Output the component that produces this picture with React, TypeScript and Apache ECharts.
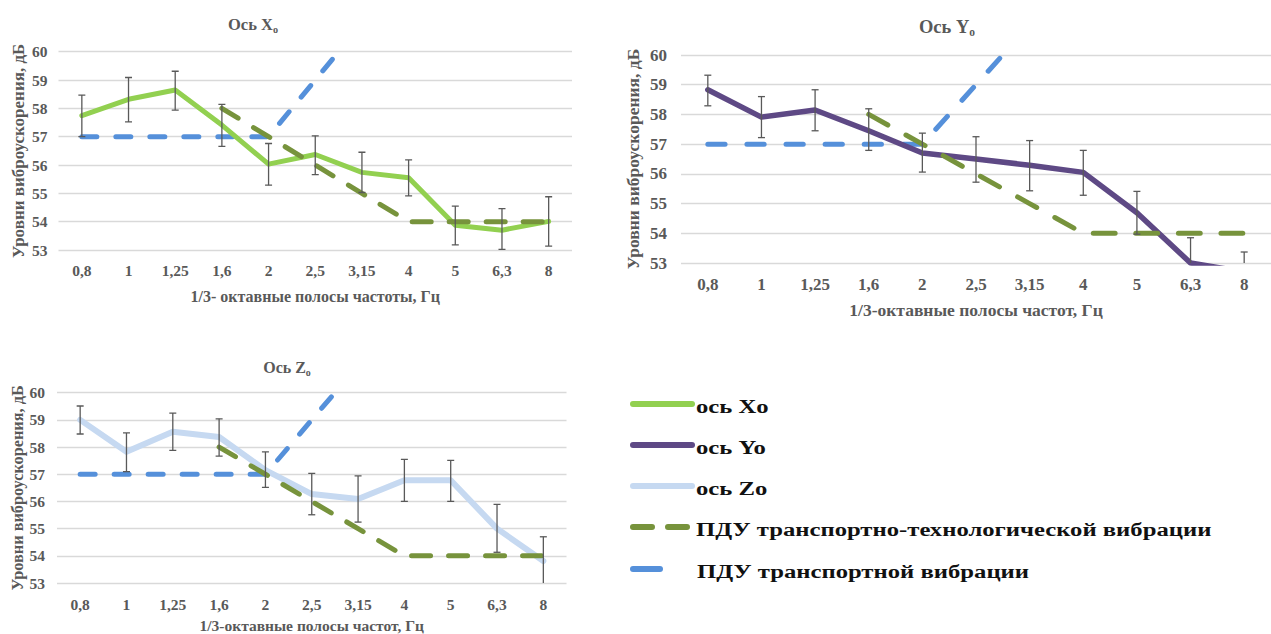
import React, { useEffect, useRef } from "react";
import * as echarts from "echarts";

const categories = ["0,8", "1", "1,25", "1,6", "2", "2,5", "3,15", "4", "5", "6,3", "8"];
const yTicks = [53, 54, 55, 56, 57, 58, 59, 60];

const xMean = [57.74, 58.32, 58.65, 57.41, 56.03, 56.37, 55.74, 55.55, 53.87, 53.7, 54.01];
const xLow = [57.0, 57.52, 57.94, 56.66, 55.29, 55.66, 55.03, 54.91, 53.18, 53.02, 53.14];
const xHigh = [58.47, 59.09, 59.31, 58.14, 56.76, 57.03, 56.45, 56.18, 54.55, 54.46, 54.88];

const yMean = [58.83, 57.91, 58.15, 57.45, 56.7, 56.5, 56.29, 56.05, 54.69, 53.0, 52.7];
const yLow = [58.29, 57.22, 57.45, 56.79, 56.06, 55.72, 55.43, 55.28, 53.97, 52.15, 52.0];
const yHigh = [59.32, 58.6, 58.83, 58.19, 57.37, 57.25, 57.12, 56.79, 55.41, 53.85, 53.37];

const zMean = [59.0, 57.83, 58.56, 58.37, 57.15, 56.27, 56.09, 56.78, 56.78, 55.0, 53.81];
const zLow = [58.48, 57.1, 57.88, 57.67, 56.52, 55.51, 55.24, 56.0, 56.0, 54.13, 52.9];
const zHigh = [59.51, 58.52, 59.25, 59.04, 57.82, 57.03, 56.94, 57.55, 57.51, 55.89, 54.7];

const pduTransportTech = [null, null, null, 58, 57, 56, 55, 54, 54, 54, 54];
const pduTransport = [57, 57, 57, 57, 57, 59, 61, null, null, null, null];

const seriesNames = ["ось Xo", "ось Yo", "ось Zo", "ПДУ транспортно-технологической вибрации", "ПДУ транспортной вибрации"];
const chartTitles = ["Ось X", "Ось Y", "Ось Z"];
const xAxisNames = ["1/3- октавные полосы частоты, Гц", "1/3-октавные полосы частот, Гц", "1/3-октавные полосы частот, Гц"];
const yAxisName = "Уровни виброускорения, дБ";

const FONT = '"Liberation Serif", "Times New Roman", serif';
const GREY = "#595959";
const C_X = "#92D050";
const C_Y = "#5E4985";
const C_Z = "#C6D9F1";
const C_TT = "#77933C";
const C_T = "#5590DA";

export default function App() {
  const ref = useRef<HTMLDivElement>(null);

  useEffect(() => {
    if (!ref.current) return;
    const chart = echarts.init(ref.current, undefined, { renderer: "svg" });

    const grids = [
      { left: 58.5, top: 51.7, width: 513.5, height: 198.3 },
      { left: 681, top: 55, width: 594, height: 208 },
      { left: 57, top: 392.7, width: 509.5, height: 192.3 },
    ];
    const tickSize = [15.5, 17, 15.5];
    const xNameSize = [16, 17.5, 15.5];
    const yNameSize = [17, 17.5, 16.3];
    const xNameGap = [38, 38, 34];
    const yNameGap = [32, 39, 31];
    const labelMarginX = [12, 13, 13];
    const labelMarginY = [11, 14, 12];
    const tScale = [1, 1.15, 1];

    const means = [xMean, yMean, zMean];
    const lows = [xLow, yLow, zLow];
    const highs = [xHigh, yHigh, zHigh];
    const colors = [C_X, C_Y, C_Z];
    const widths = [5, 5.5, 6];

    const xAxes = grids.map((_, i) => ({
      type: "category",
      gridIndex: i,
      data: categories,
      boundaryGap: true,
      axisLine: { show: false },
      axisTick: { show: false },
      axisLabel: { color: GREY, fontFamily: FONT, fontWeight: "bold", fontSize: tickSize[i], margin: labelMarginX[i] },
      name: xAxisNames[i],
      nameLocation: "middle",
      nameGap: xNameGap[i],
      nameTextStyle: { color: GREY, fontFamily: FONT, fontWeight: "bold", fontSize: xNameSize[i] },
    }));
    const yAxes = grids.map((_, i) => ({
      type: "value",
      gridIndex: i,
      min: yTicks[0],
      max: yTicks[yTicks.length - 1],
      interval: 1,
      axisLine: { show: false },
      axisTick: { show: false },
      splitLine: { lineStyle: { color: "#D9D9D9", width: 1.3 } },
      axisLabel: { color: GREY, fontFamily: FONT, fontWeight: "bold", fontSize: tickSize[i], margin: labelMarginY[i] },
      name: yAxisName,
      nameLocation: "middle",
      nameGap: yNameGap[i],
      nameTextStyle: { color: GREY, fontFamily: FONT, fontWeight: "bold", fontSize: yNameSize[i] },
    }));

    const series: any[] = [];
    grids.forEach((_, i) => {
      const s = tScale[i];
      series.push({
        type: "line",
        name: seriesNames[4],
        xAxisIndex: i,
        yAxisIndex: i,
        data: pduTransport,
        symbol: "none",
        connectNulls: false,
        lineStyle: { color: C_T, width: 5, type: [15 * s, 19 * s], cap: "round" },
        itemStyle: { color: C_T },
        z: 2,
      });
      series.push({
        type: "line",
        name: seriesNames[i],
        xAxisIndex: i,
        yAxisIndex: i,
        data: means[i],
        symbol: "none",
        lineStyle: { color: colors[i], width: widths[i], cap: "round", join: "round" },
        itemStyle: { color: colors[i] },
        z: 3,
      });
      series.push({
        type: "line",
        name: seriesNames[3],
        xAxisIndex: i,
        yAxisIndex: i,
        data: pduTransportTech,
        symbol: "none",
        lineStyle: { color: C_TT, width: 5, type: [19 * s, 18 * s], cap: "round" },
        itemStyle: { color: C_TT },
        z: 4,
      });
      series.push({
        type: "custom",
        name: "err" + i,
        xAxisIndex: i,
        yAxisIndex: i,
        clip: true,
        z: 5,
        data: categories.map((_, k) => [k, lows[i][k], highs[i][k]]),
        encode: { x: 0, y: [1, 2] },
        renderItem: (params: any, api: any) => {
          const lo = api.coord([api.value(0), api.value(1)]);
          const hi = api.coord([api.value(0), api.value(2)]);
          const w = 3.5;
          const st = { stroke: "#595959", lineWidth: 1.3 };
          return {
            type: "group",
            children: [
              { type: "line", shape: { x1: lo[0], y1: lo[1], x2: hi[0], y2: hi[1] }, style: st },
              { type: "line", shape: { x1: hi[0] - w, y1: hi[1], x2: hi[0] + w, y2: hi[1] }, style: st },
              { type: "line", shape: { x1: lo[0] - w, y1: lo[1], x2: lo[0] + w, y2: lo[1] }, style: st },
            ],
          };
        },
      });
    });

    const titlePos = [
      [253, 24, 16.5],
      [947, 27, 18.5],
      [287, 367, 16],
    ];
    const titleGraphics = titlePos.map((p, i) => ({
      type: "text",
      x: p[0],
      y: p[1],
      style: {
        text: "{a|" + chartTitles[i] + "}{s|o}",
        align: "center",
        verticalAlign: "middle",
        rich: {
          a: { fontSize: p[2], fontWeight: "bold", fontFamily: FONT, fill: GREY },
          s: { fontSize: p[2] * 0.62, fontWeight: "bold", fontFamily: FONT, fill: GREY, padding: [10, 0, 0, 0] },
        },
      },
    }));

    const legendItems = [
      { name: seriesNames[0], color: C_X, dash: null as any, x2: 692, y: 404, tx: 696 },
      { name: seriesNames[1], color: C_Y, dash: null as any, x2: 692, y: 445, tx: 696 },
      { name: seriesNames[2], color: C_Z, dash: null as any, x2: 692, y: 486, tx: 696 },
      { name: seriesNames[3], color: C_TT, dash: [19, 16], x2: 688, y: 527, tx: 696 },
      { name: seriesNames[4], color: C_T, dash: null as any, x2: 660, y: 569, tx: 697 },
    ];
    const legendGraphics: any[] = [];
    legendItems.forEach((it) => {
      legendGraphics.push({
        type: "line",
        shape: { x1: 633, y1: it.y, x2: it.x2, y2: it.y },
        style: { stroke: it.color, lineWidth: 6, lineCap: "round", lineDash: it.dash || undefined },
      });
      legendGraphics.push({
        type: "text",
        x: it.tx,
        y: it.y + 3,
        scaleX: 1.3,
        style: {
          text: it.name,
          fontSize: 19,
          fontWeight: "bold",
          fontFamily: FONT,
          fill: "#111111",
          verticalAlign: "middle",
        },
      });
    });

    chart.setOption({
      animation: false,
      backgroundColor: "#ffffff",
      grid: grids,
      xAxis: xAxes,
      yAxis: yAxes,
      series,
      graphic: [...titleGraphics, ...legendGraphics],
    });

    return () => chart.dispose();
  }, []);

  return (
    <div
      ref={ref}
      style={{ position: "fixed", left: 0, top: 0, width: 1271, height: 634, background: "#fff" }}
    />
  );
}
